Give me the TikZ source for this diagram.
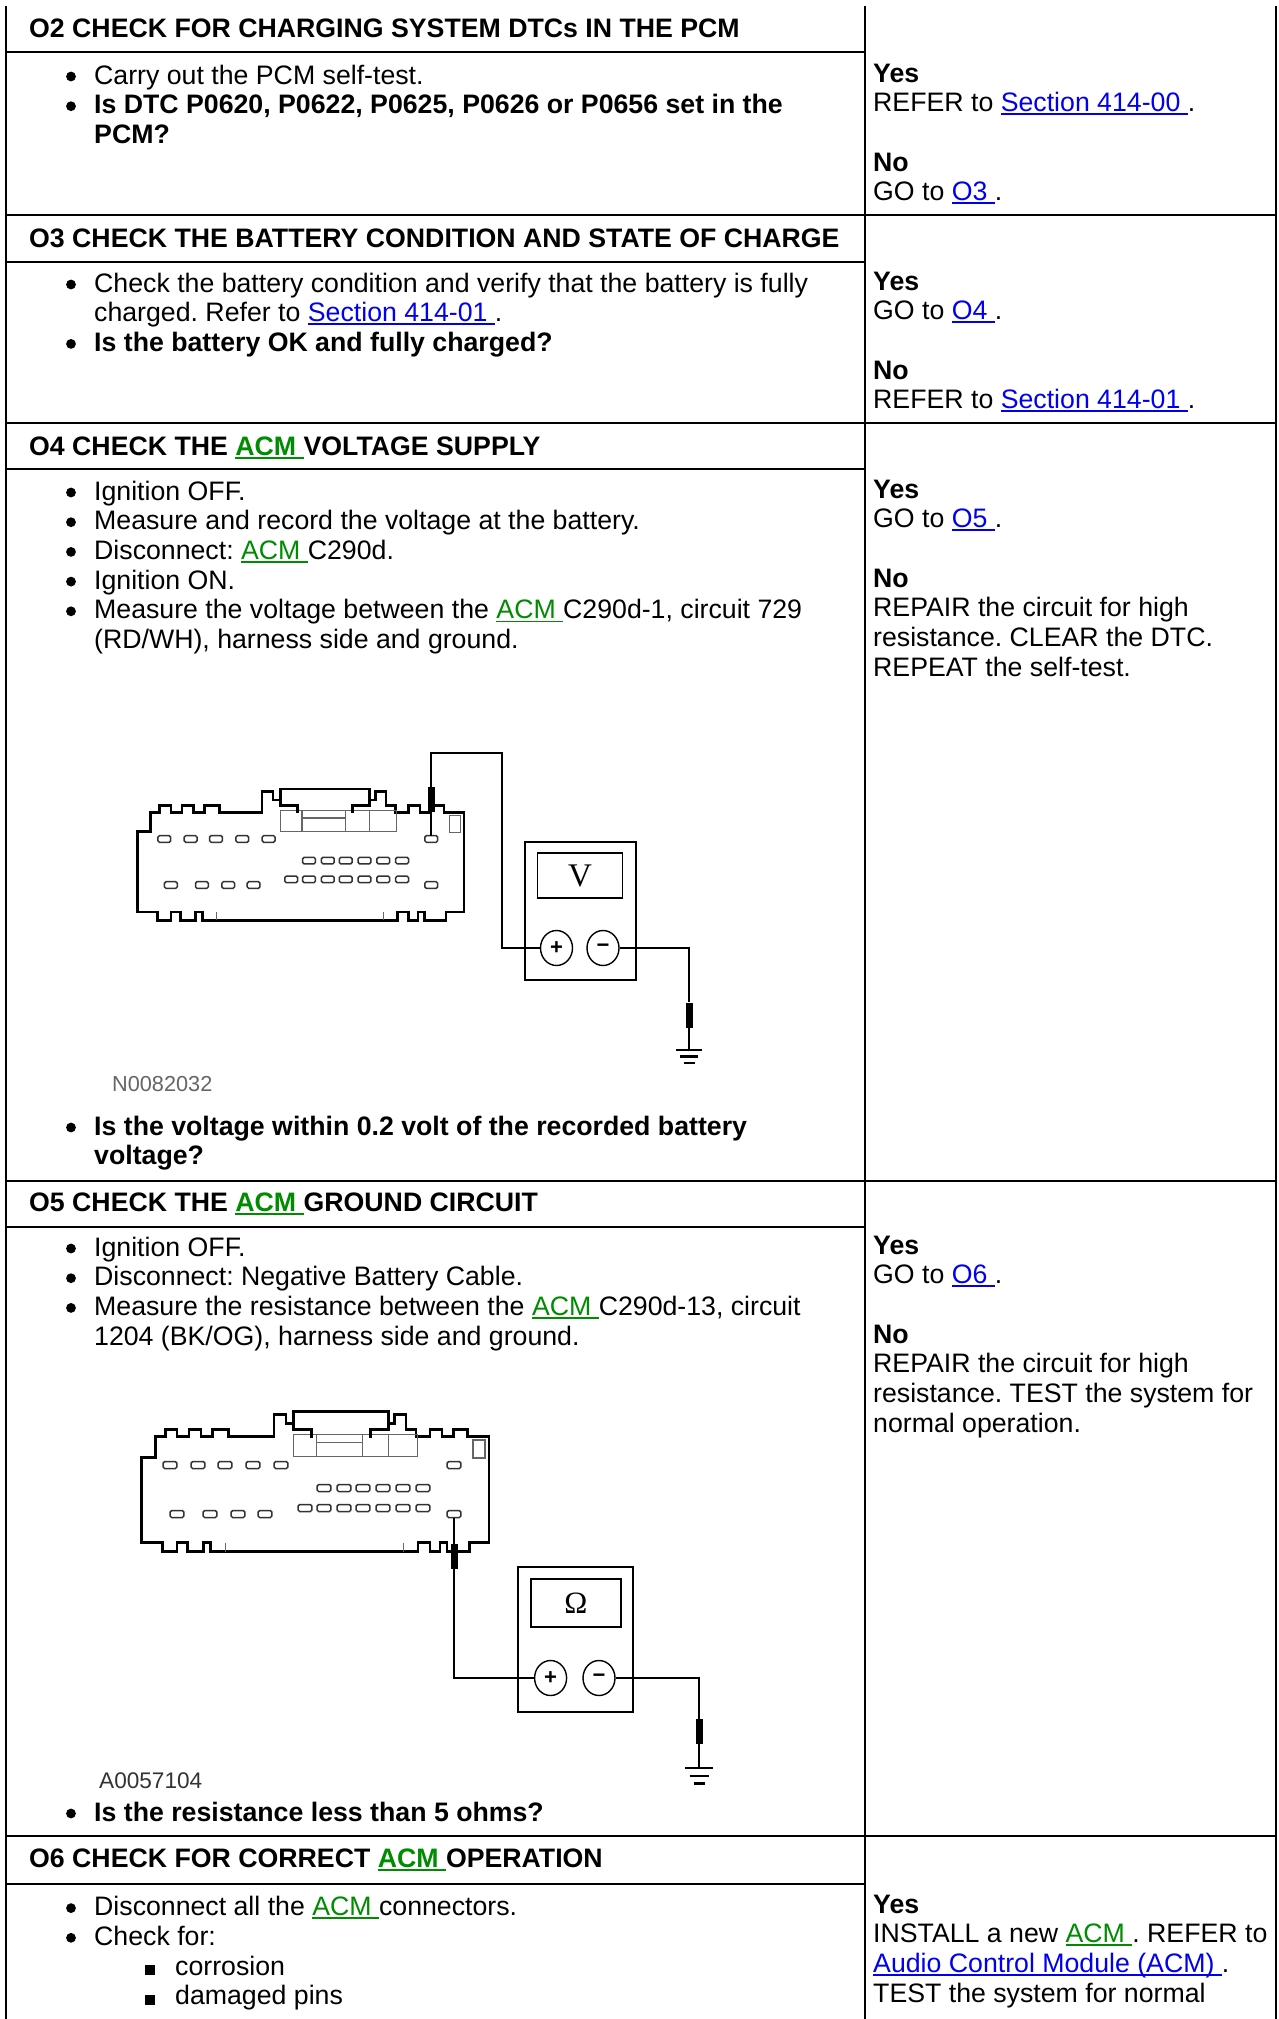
\documentclass[tikz,border=0pt]{standalone}
\usepackage{fontspec}
\setmainfont{Liberation Sans}
\newfontfamily\serifsym{Liberation Serif}
\usetikzlibrary{shapes.geometric}
\definecolor{lnkblue}{RGB}{0,0,238}
\definecolor{acmgreen}{RGB}{0,140,0}
\newcommand{\bodysize}{\fontsize{26.7}{29.7}\selectfont}
\newcommand{\ulnk}[2]{{\color{#1}\setbox0\hbox{#2}\rlap{\rule[-3.5pt]{\wd0}{1.8pt}}\box0}}
\newcommand{\sect}[1]{\ulnk{lnkblue}{#1 }}
\newcommand{\acm}{\ulnk{acmgreen}{ACM }}
\frenchspacing
% connector outline, local units, origin at lower left of the body
\newcommand{\acmplug}{%
\draw[plugline] (0,0) -- (0,-85.4) -- (13.8,-85.4) -- (13.8,-106)
 -- (23.7,-106) -- (23.7,-113.4) -- (35.5,-113.4) -- (35.5,-106)
 -- (47.5,-106) -- (47.5,-113.4) -- (59.3,-113.4) -- (59.3,-106)
 -- (71,-106) -- (71,-113.4) -- (87,-113.4) -- (87,-106)
 -- (132.5,-106) -- (132.5,-128.4) -- (144.3,-128.4) -- (144.3,-119)
 -- (152.2,-119) -- (152.2,-131) -- (247,-131) -- (247,-119)
 -- (253,-119) -- (253,-128.4) -- (264.5,-128.4) -- (264.5,-113.4)
 -- (274.5,-113.4) -- (274.5,-106) -- (288.5,-106) -- (288.5,-113.4)
 -- (300.5,-113.4) -- (300.5,-106) -- (312,-106) -- (312,-113.4)
 -- (326,-113.4) -- (326,-106) -- (347.5,-106) -- (347.5,0)
 -- (328,0) -- (328,9) -- (305.5,9) -- (305.5,0) -- (298.5,0)
 -- (298.5,9) -- (288.5,9) -- (288.5,0) -- (276.5,0) -- (276.5,9)
 -- (69,9) -- (69,0) -- (62,0) -- (62,9) -- (46,9) -- (46,0)
 -- (35.5,0) -- (35.5,9) -- (21,9) -- (21,0) -- cycle;
\draw[thinline] (152,-108) rectangle (276,-86);
\draw[thinline] (175,-108) -- (175,-86) (221,-108) -- (221,-86) (247,-108) -- (247,-86) (175,-100) -- (221,-100);
\draw[hook] (152.2,-119) -- (152.2,-113) -- (170,-113) -- (170,-105);
\draw[hook] (247,-119) -- (247,-113) -- (229,-113) -- (229,-105);
\draw[thinline] (331.5,-102.7) rectangle (343.5,-84.7);
\draw[thinline] (84,0) -- (84,9) (262,0) -- (262,9);
\foreach \x/\y in {28.5/-77.7, 56.5/-77.7, 83.5/-77.7, 111.5/-77.7, 139.5/-77.7, 312.5/-77.7,
  182.5/-54.7, 202.5/-54.7, 221.5/-54.7, 241.5/-54.7, 261.5/-54.7, 281.5/-54.7,
  163.5/-34.7, 182.5/-34.7, 202.5/-34.7, 221.5/-34.7, 241.5/-34.7, 261.5/-34.7, 281.5/-34.7,
  35.5/-28.7, 68.5/-28.7, 96.5/-28.7, 123.5/-28.7, 312.5/-28.7}
  \draw[pin] (\x-6.8,\y-3.5) rectangle (\x+6.8,\y+3.5);
}
\begin{document}
\begin{tikzpicture}[x=1pt,y=-1pt]
\tikzstyle{every node}=[inner sep=0pt, font=\bodysize]
\tikzstyle{txt}=[anchor=base west]
\tikzstyle{bold}=[anchor=base west, font=\bodysize\bfseries]
\tikzstyle{rule}=[line width=2.6pt]
\tikzstyle{plugline}=[line width=2.6pt, line join=miter]
\tikzstyle{thinline}=[line width=1.1pt, black!60]
\tikzstyle{hook}=[line width=2.8pt]
\tikzstyle{pin}=[line width=1.5pt, black!80, rounded corners=1.5pt]
\tikzstyle{wire}=[line width=2.6pt]
\tikzstyle{needle}=[line width=1.8pt]
\tikzstyle{probe}=[rectangle, fill=black, minimum width=7, minimum height=25]
\tikzstyle{box}=[rectangle, draw, line width=2.4pt]
\tikzstyle{win}=[rectangle, draw, line width=1.6pt, font=\serifsym\fontsize{33}{33}\selectfont]
\tikzstyle{term}=[ellipse, draw, line width=1.4pt, minimum width=32, minimum height=35, font=\fontsize{22}{22}\selectfont\bfseries]
\useasboundingbox (0,0) rectangle (1279,2019);
\fill[white] (0,0) rectangle (1279,2019);
\clip (0,6.5) rectangle (1279,2019);

% table cells
\draw[rule] (6,5) rectangle (865,52);
\draw[rule] (6,52) rectangle (865,215);
\draw[rule] (865,5) rectangle (1276,215);
\draw[rule] (6,215) rectangle (865,262);
\draw[rule] (6,262) rectangle (865,423);
\draw[rule] (865,215) rectangle (1276,423);
\draw[rule] (6,423) rectangle (865,469);
\draw[rule] (6,469) rectangle (865,1181);
\draw[rule] (865,423) rectangle (1276,1181);
\draw[rule] (6,1181) rectangle (865,1227);
\draw[rule] (6,1227) rectangle (865,1836);
\draw[rule] (865,1181) rectangle (1276,1836);
\draw[rule] (6,1836) rectangle (865,1884);
\draw[rule] (6,1884) rectangle (865,2040);
\draw[rule] (865,1836) rectangle (1276,2040);

% bullets
\foreach \y in {84,113.7,292,351.4,500,529.7,559.4,589.1,618.8,1135,1256,1285.7,1315.4,1821,1915.6,1945.3}
  \fill (71,\y-7.5) circle (4.9);
\foreach \y in {1975,2004.7}
  \fill (145,\y-10) rectangle (155,\y);

% O2
\node (h2) [bold] at (29,37) {O2 CHECK FOR CHARGING SYSTEM DTCs IN THE PCM};
\node (a2) [txt] at (94,84) {Carry out the PCM self-test.};
\node (b2) [bold] at (94,113.7) {Is DTC P0620, P0622, P0625, P0626 or P0656 set in the};
\node (c2) [bold] at (94,143.4) {PCM?};
\node (y2) [bold] at (873,82) {Yes};
\node (r2) [txt] at (873,111.7) {REFER to \sect{Section 414-00}.};
\node (n2) [bold] at (873,171) {No};
\node (g2) [txt] at (873,200.7) {GO to \sect{O3}.};

% O3
\node (h3) [bold] at (29,247) {O3 CHECK THE BATTERY CONDITION AND STATE OF CHARGE};
\node (a3) [txt] at (94,292) {Check the battery condition and verify that the battery is fully};
\node (b3) [txt] at (94,321.7) {charged. Refer to \sect{Section 414-01}.};
\node (c3) [bold] at (94,351.4) {Is the battery OK and fully charged?};
\node (y3) [bold] at (873,290) {Yes};
\node (g3) [txt] at (873,319.7) {GO to \sect{O4}.};
\node (n3) [bold] at (873,379) {No};
\node (r3) [txt] at (873,408.7) {REFER to \sect{Section 414-01}.};

% O4
\node (h4) [bold] at (29,455) {O4 CHECK THE \acm VOLTAGE SUPPLY};
\node (a4) [txt] at (94,500) {Ignition OFF.};
\node (b4) [txt] at (94,529.7) {Measure and record the voltage at the battery.};
\node (c4) [txt] at (94,559.4) {Disconnect: \acm C290d.};
\node (d4) [txt] at (94,589.1) {Ignition ON.};
\node (e4) [txt] at (94,618.8) {Measure the voltage between the \acm C290d-1, circuit 729};
\node (f4) [txt] at (94,648.5) {(RD/WH), harness side and ground.};
\node (q4) [bold] at (94,1135) {Is the voltage within 0.2 volt of the recorded battery};
\node (s4) [bold] at (94,1164.7) {voltage?};
\node (y4) [bold] at (873,498) {Yes};
\node (g4) [txt] at (873,527.7) {GO to \sect{O5}.};
\node (n4) [bold] at (873,587) {No};
\node (r4) [txt] at (873,616.7) {REPAIR the circuit for high};
\node (t4) [txt] at (873,646.4) {resistance. CLEAR the DTC.};
\node (u4) [txt] at (873,676.1) {REPEAT the self-test.};

% voltage check picture
\begin{scope}[shift={(137.5,912)}, scale=0.94]
\acmplug
\end{scope}
\coordinate (pin1) at (431,835.5);
\coordinate (w1) at (502,753);
\coordinate (e1) at (689,1050);
\node (tp1) [probe] at (431,799.5) {};
\node (vm) [box, minimum width=111, minimum height=138] at (580.5,911) {};
\node (vw) [win, minimum width=85, minimum height=45] at (580,875.5) {V};
\node (vp) [term] at (556.5,948) {+};
\node (vn) [term] at (603,948) {−};
\node (gp1) [probe] at (689,1015) {};
\draw[needle] (tp1.south) -- (pin1);
\draw[wire] (tp1.north) |- (w1) |- (vp.west);
\draw[wire] (vn.east) -| (gp1.north);
\draw[needle] (gp1.south) -- (e1);
\draw[wire] (e1) ++(-13,0) -- ++(26,0);
\draw[wire] (e1) ++(-9,6.5) -- ++(18,0);
\draw[wire] (e1) ++(-5.5,13) -- ++(11,0);
\node (lab1) [txt, font=\fontsize{21.7}{24}\selectfont, text=black!60] at (112,1091) {N0082032};

% O5
\node (h5) [bold] at (29,1211) {O5 CHECK THE \acm GROUND CIRCUIT};
\node (a5) [txt] at (94,1256) {Ignition OFF.};
\node (b5) [txt] at (94,1285.7) {Disconnect: Negative Battery Cable.};
\node (c5) [txt] at (94,1315.4) {Measure the resistance between the \acm C290d-13, circuit};
\node (d5) [txt] at (94,1345.1) {1204 (BK/OG), harness side and ground.};
\node (q5) [bold] at (94,1821) {Is the resistance less than 5 ohms?};
\node (y5) [bold] at (873,1254) {Yes};
\node (g5) [txt] at (873,1283.7) {GO to \sect{O6}.};
\node (n5) [bold] at (873,1343) {No};
\node (r5) [txt] at (873,1372.7) {REPAIR the circuit for high};
\node (t5) [txt] at (873,1402.4) {resistance. TEST the system for};
\node (u5) [txt] at (873,1432.1) {normal operation.};

% resistance check picture
\begin{scope}[shift={(141.5,1542.7)}]
\acmplug
\end{scope}
\coordinate (pin2) at (454,1517.5);
\coordinate (e2) at (699,1768);
\node (tp2) [probe] at (454,1556.5) {};
\node (om) [box, minimum width=115, minimum height=145] at (575.5,1639.5) {};
\node (ow) [win, minimum width=90, minimum height=48, font=\serifsym\fontsize{31}{31}\selectfont] at (576,1603) {Ω};
\node (op) [term] at (550.6,1678) {+};
\node (on) [term] at (599,1678) {−};
\node (gp2) [probe] at (699,1731.5) {};
\draw[needle] (pin2) -- (tp2.north);
\draw[wire] (tp2.south) |- (op.west);
\draw[wire] (on.east) -| (gp2.north);
\draw[needle] (gp2.south) -- (e2);
\draw[wire] (e2) ++(-14,0) -- ++(28,0);
\draw[wire] (e2) ++(-9.5,8) -- ++(19,0);
\draw[wire] (e2) ++(-5.5,15.5) -- ++(11,0);
\node (lab2) [txt, font=\fontsize{22.6}{25}\selectfont, text=black!80] at (99,1788) {A0057104};

% O6
\node (h6) [bold] at (29,1867) {O6 CHECK FOR CORRECT \acm OPERATION};
\node (a6) [txt] at (94,1915.6) {Disconnect all the \acm connectors.};
\node (b6) [txt] at (94,1945.3) {Check for:};
\node (c6) [txt] at (175,1975) {corrosion};
\node (d6) [txt] at (175,2004.7) {damaged pins};
\node (y6) [bold] at (873,1913) {Yes};
\node (i6) [txt] at (873,1942.7) {INSTALL a new \acm. REFER to};
\node (m6) [txt] at (873,1972.4) {\sect{Audio Control Module (ACM)}.};
\node (t6) [txt] at (873,2002.1) {TEST the system for normal};
\end{tikzpicture}
\end{document}
